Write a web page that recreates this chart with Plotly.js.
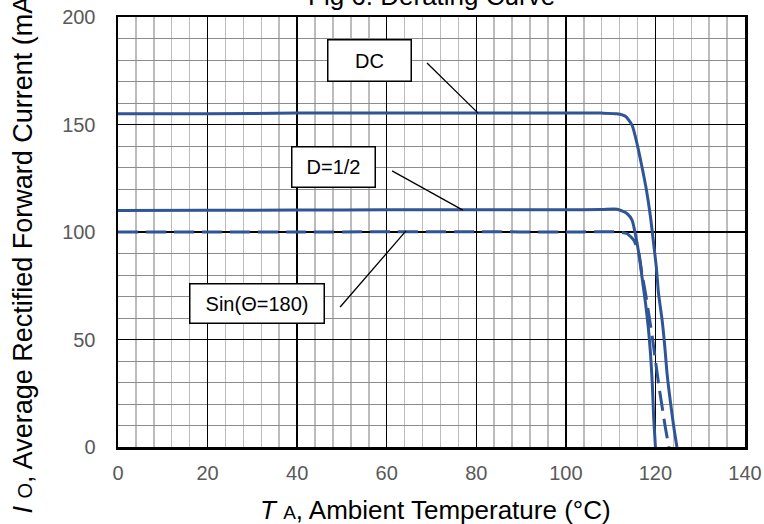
<!DOCTYPE html>
<html><head><meta charset="utf-8">
<script src="https://cdn.plot.ly/plotly-3.0.1.min.js"></script>
<style>html,body{margin:0;padding:0;background:#fff}#chart{width:764px;height:524px}</style>
</head><body><div id="chart"></div>
<script>
// ---- data ----
const dcTemp    = [0, 20, 40, 60, 80, 100, 108, 111.4, 113.3, 114.8, 115.9, 117, 118, 118.9, 119.6, 120.2, 120.7, 121.5, 122.1, 122.6, 123.3, 124.1, 124.8];
const dcCurrent = [155, 155, 155.3, 155.3, 155.4, 155.3, 155.3, 155, 153.8, 149.6, 141, 130.2, 119.4, 107, 94.6, 83.7, 71.3, 58.9, 46.5, 34.1, 21.7, 9.3, 0];
const halfTemp    = [0, 20, 40, 60, 80, 100, 108, 111.5, 113.7, 114.8, 115.5, 116.3, 117, 117.8, 118.4, 118.9, 119.3, 119.6, 120];
const halfCurrent = [110, 110.1, 110.2, 110.3, 110.4, 110.3, 110.5, 110.6, 108.5, 105.4, 99.2, 89.9, 79.1, 66.7, 55.8, 43.4, 29.5, 14, 0];
const sinTemp    = [0, 20, 40, 60, 80, 100, 108, 111.5, 113.7, 115.2, 116.3, 117, 117.8, 118.5, 119.3, 120, 120.7, 121.5, 122.2, 123];
const sinCurrent = [100, 100, 100, 100.1, 100.1, 100, 100.1, 100, 99.2, 96.1, 89.9, 80.6, 71.3, 62, 51.2, 40.3, 29.5, 18.6, 9.3, 0];
const seriesNames = ['DC', 'D=1/2', 'Sin(Θ=180)'];
const xTickVals = [0, 20, 40, 60, 80, 100, 120, 140];
const yTickVals = [0, 50, 100, 150, 200];
const chartTitle = 'Fig 6. Derating Curve';
const xTitle = '<i>T</i> <span style="font-size:19px">A</span>, Ambient Temperature (°C)';
const yTitle = '<i>I</i> <span style="font-size:20px">O</span>, Average Rectified Forward Current (mA)';

const blue = '#2F5597';
const tickFont = {family: '"Liberation Sans Narrow", "Arial Narrow", "Liberation Sans", Arial, sans-serif', size: 20, color: '#595959'};
const titleFont = {family: '"Liberation Sans", Arial, sans-serif', size: 26, color: '#000'};
const yTitleFont = {family: '"Liberation Sans", Arial, sans-serif', size: 27, color: '#000'};

const traces = [
  {x: dcTemp, y: dcCurrent, name: seriesNames[0], mode: 'lines', line: {color: blue, width: 3, shape: 'spline', smoothing: 0.6}},
  {x: halfTemp, y: halfCurrent, name: seriesNames[1], mode: 'lines', line: {color: blue, width: 3, shape: 'spline', smoothing: 0.6}},
  {x: sinTemp, y: sinCurrent, name: seriesNames[2], mode: 'lines', line: {color: blue, width: 3, dash: '20px,8px', shape: 'spline', smoothing: 0.6}}
];

const boxStyle = {showarrow: false, bgcolor: '#fff', bordercolor: '#000', borderwidth: 1.5, borderpad: 1,
  font: {family: '"Liberation Sans", Arial, sans-serif', size: 20, color: '#000'}, xref: 'x', yref: 'y', xanchor: 'center', yanchor: 'middle'};

const layout = {
  width: 764, height: 524,
  margin: {l: 118, r: 19, t: 17, b: 77},
  paper_bgcolor: '#fff', plot_bgcolor: '#fff',
  showlegend: false,
  xaxis: {
    range: [0, 140], tickvals: xTickVals, ticks: '', tickfont: tickFont, ticklabelstandoff: 6,
    showgrid: true, gridcolor: '#000', gridwidth: 1.5,
    minor: {dtick: 4, tick0: 0, showgrid: true, gridcolor: '#bcbcbc', gridwidth: 1.5},
    showline: true, mirror: true, linecolor: '#000', linewidth: 2.5, zeroline: false, fixedrange: true
  },
  yaxis: {
    range: [0, 200], tickvals: yTickVals, ticks: '', tickfont: tickFont, ticklabelstandoff: 16,
    showgrid: true, gridcolor: '#000', gridwidth: 1.5,
    minor: {dtick: 10, tick0: 0, showgrid: true, gridcolor: '#8c8c8c', gridwidth: 1},
    showline: true, mirror: true, linecolor: '#000', linewidth: 2.5, zeroline: false, fixedrange: true
  },
  annotations: [
    {text: chartTitle, xref: 'paper', yref: 'paper', x: 0.5, y: 1.0488, xanchor: 'center', yanchor: 'middle', showarrow: false, font: titleFont},
    {text: xTitle, xref: 'paper', yref: 'paper', x: 0.5056, y: -0.1465, xanchor: 'center', yanchor: 'middle', showarrow: false, font: titleFont},
    {text: yTitle, xref: 'paper', yref: 'paper', x: -0.1515, y: 0.457, xanchor: 'center', yanchor: 'middle', textangle: -90, showarrow: false, font: yTitleFont},
    Object.assign({}, boxStyle, {text: seriesNames[0], x: 56.2, y: 179.8, width: 80, height: 38}),
    Object.assign({}, boxStyle, {text: seriesNames[1], x: 48.1, y: 130.2, width: 80, height: 37}),
    Object.assign({}, boxStyle, {text: seriesNames[2], x: 31.05, y: 66.75, width: 131, height: 36})
  ],
  shapes: [
    {type: 'line', xref: 'x', yref: 'y', x0: 69.0, y0: 178.6, x1: 80.4, y1: 155.3, line: {color: '#000', width: 1.3}},
    {type: 'line', xref: 'x', yref: 'y', x0: 61.2, y0: 128.4, x1: 77.0, y1: 110.2, line: {color: '#000', width: 1.3}},
    {type: 'line', xref: 'x', yref: 'y', x0: 49.6, y0: 65.1, x1: 64.3, y1: 100.5, line: {color: '#000', width: 1.3}}
  ]
};

Plotly.newPlot('chart', traces, layout, {displayModeBar: false, staticPlot: true});
</script>
</body></html>
